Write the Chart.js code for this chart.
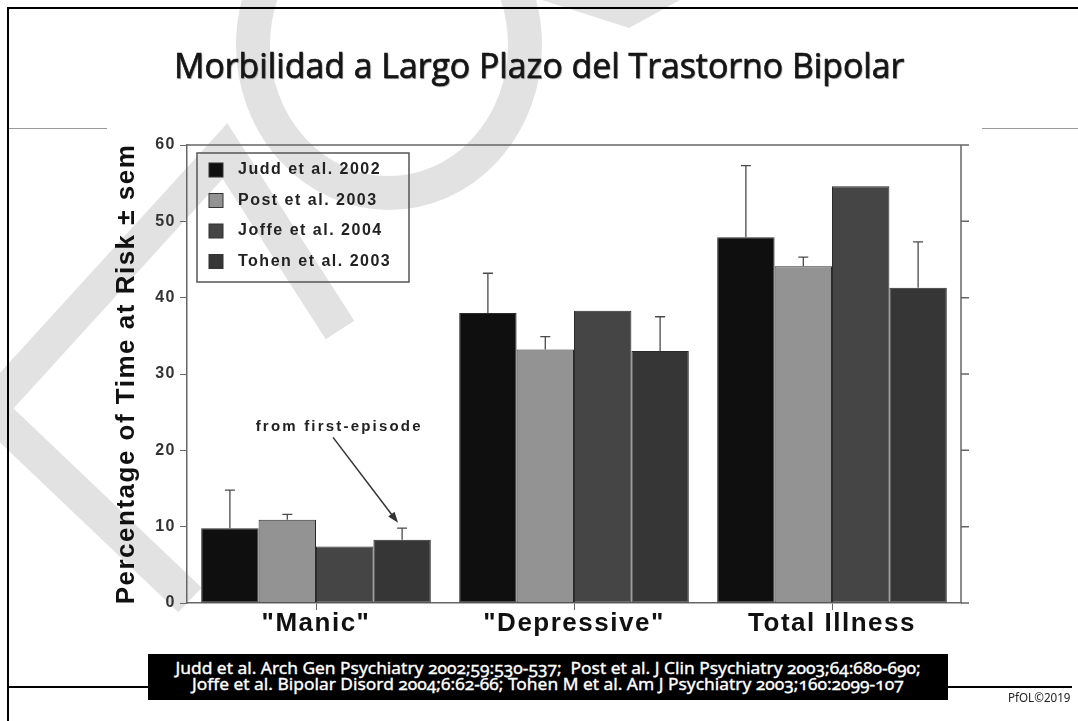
<!DOCTYPE html>
<html>
<head>
<meta charset="utf-8">
<script src="https://cdn.jsdelivr.net/npm/chart.js@4.4.0/dist/chart.umd.min.js"></script>
<style>
  body { margin: 0; width: 1078px; height: 721px; overflow: hidden; background: #fff; position: relative; }
  #wm, #chart { position: absolute; left: 0; top: 0; }
  .line { position: absolute; background: #000; }
  .rule { position: absolute; top: 128px; height: 1px; background: #9a9a9a; }
  #title { position: absolute; left: 0; top: 41px; width: 1078px; text-align: center; white-space: nowrap;
           font-family: "Open Sans", sans-serif; font-size: 35px; color: #151515;
           -webkit-text-stroke: 0.7px #151515; text-shadow: 1px 1px 1px #999; }
  #title span, #cite span, #mark span { display: inline-block; transform-origin: center; }
  #cite { position: absolute; left: 148px; top: 654px; width: 800px; height: 46px; padding-top: 6px; box-sizing: border-box;
          background: #000; color: #fff; text-align: center; white-space: nowrap;
          font-family: "Noto Sans", sans-serif; font-size: 16px; line-height: 16px; font-feature-settings: "onum";
          -webkit-text-stroke: 0.35px #fff; }
  #mark { position: absolute; left: 1000px; top: 690px; width: 78px; text-align: center;
          font-family: "Noto Sans", sans-serif; font-size: 12px; line-height: 16px; color: #222; }
</style>
</head>
<body>
<svg id="wm" width="1078" height="721">
  <g fill="none" stroke="#e2e2e2" stroke-width="34">
    <ellipse cx="389" cy="45" rx="136" ry="148"/>
    <polyline points="-20,420 225,151 340,330"/>
    <line x1="-20" y1="400" x2="190" y2="600"/>
  </g>
  <polygon points="542,0 680,0 629,28" fill="#e2e2e2"/>
</svg>
<canvas id="chart" width="1078" height="721"></canvas>

<div class="line" style="left:7px; top:7px; width:1071px; height:2px;"></div>
<div class="line" style="left:7px; top:7px; width:2px; height:714px;"></div>
<div class="line" style="left:7px; top:686px; width:1065px; height:2px;"></div>
<div class="rule" style="left:9px; width:98px;"></div>
<div class="rule" style="left:982px; width:96px;"></div>

<div id="title"><span>Morbilidad a Largo Plazo del Trastorno Bipolar</span></div>
<div id="cite">
  <span id="cite1">Judd et al. Arch Gen Psychiatry 2002;59:530-537;&nbsp; Post et al. J Clin Psychiatry 2003;64:680-690;</span><br>
  <span id="cite2">Joffe et al. Bipolar Disord 2004;6:62-66; Tohen M et al. Am J Psychiatry 2003;160:2099-107</span>
</div>
<div id="mark"><span id="mark1">PfOL©2019</span></div>

<script>
const categories = ['"Manic"', '"Depressive"', 'Total Illness'];
const studies = ['Judd et al. 2002', 'Post et al. 2003', 'Joffe et al. 2004', 'Tohen et al. 2003'];

const juddValues = [9.8, 38.0, 47.9];
const postValues = [10.9, 33.2, 44.1];
const joffeValues = [7.4, 38.3, 54.6];
const tohenValues = [8.3, 33.0, 41.3];

// standard error of the mean, drawn upward only
const juddSem = [5.0, 5.2, 9.4];
const postSem = [0.7, 1.7, 1.2];
const joffeSem = [null, null, null];
const tohenSem = [1.5, 4.5, 6.0];

const yTicks = [0, 10, 20, 30, 40, 50, 60];
const yTitle = 'Percentage of Time at Risk ± sem';
const noteText = 'from first-episode';

const barColors = ['#0f0f0f', '#939393', '#454545', '#363636'];

function fitWidth(el, width) {
  el.style.transform = `scaleX(${width / el.offsetWidth})`;
}
fitWidth(document.getElementById('cite1'), 745);
fitWidth(document.getElementById('cite2'), 712);
fitWidth(document.getElementById('mark1'), 63);
fitWidth(document.querySelector('#title span'), 730);

Chart.defaults.font.family = '"Liberation Sans", Arial, sans-serif';

const allValues = [juddValues, postValues, joffeValues, tohenValues];
const allSem = [juddSem, postSem, joffeSem, tohenSem];

const decorations = {
  id: 'decorations',
  beforeUpdate(chart) { chart.ctx.letterSpacing = '1.5px'; },
  beforeDraw(chart) { chart.ctx.letterSpacing = '1.5px'; },
  afterDatasetsDraw(chart) {
    const ctx = chart.ctx;
    const y = chart.scales.y;
    ctx.save();
    ctx.strokeStyle = '#4a4a4a';
    ctx.lineWidth = 1.3;
    allSem.forEach((sem, i) => {
      chart.getDatasetMeta(i).data.forEach((bar, j) => {
        if (sem[j] == null) return;
        const top = y.getPixelForValue(allValues[i][j] + sem[j]);
        ctx.beginPath();
        ctx.moveTo(bar.x, bar.y);
        ctx.lineTo(bar.x, top);
        ctx.moveTo(bar.x - 5, top);
        ctx.lineTo(bar.x + 5, top);
        ctx.stroke();
      });
    });
    ctx.restore();
  },
  afterDraw(chart) {
    const { ctx, chartArea: a, scales: { x, y } } = chart;
    ctx.save();

    // top frame and right axis with outward ticks
    ctx.strokeStyle = '#666';
    ctx.lineWidth = 1.5;
    ctx.beginPath();
    ctx.moveTo(a.left, a.top);
    ctx.lineTo(a.right + 8, a.top);
    ctx.moveTo(a.right, a.top);
    ctx.lineTo(a.right, a.bottom);
    yTicks.forEach(v => {
      const py = y.getPixelForValue(v);
      ctx.moveTo(a.right, py);
      ctx.lineTo(a.right + 8, py);
    });
    ctx.stroke();

    // legend box
    const lx = a.left + 10, ly = a.top + 8;
    ctx.strokeStyle = '#555';
    ctx.lineWidth = 1.5;
    ctx.strokeRect(lx, ly, 212, 129);
    ctx.font = 'bold 16px "Liberation Sans", Arial, sans-serif';
    ctx.textBaseline = 'middle';
    ctx.textAlign = 'left';
    chart.data.datasets.forEach((ds, i) => {
      const cy = ly + 17 + i * 30.5;
      ctx.fillStyle = ds.backgroundColor;
      ctx.fillRect(lx + 12, cy - 7, 14, 14);
      ctx.strokeStyle = '#333';
      ctx.lineWidth = 1;
      ctx.strokeRect(lx + 12, cy - 7, 14, 14);
      ctx.fillStyle = '#222';
      ctx.fillText(ds.label, lx + 41, cy);
    });

    // annotation with arrow to the Tohen "Manic" bar
    const step = x.getPixelForValue(1) - x.getPixelForValue(0);
    const px = f => x.getPixelForValue(0) + f * step;
    ctx.font = 'bold 15px "Liberation Sans", Arial, sans-serif';
    ctx.letterSpacing = '2.2px';
    ctx.textAlign = 'center';
    ctx.fillStyle = '#222';
    ctx.fillText(noteText, px(0.09), y.getPixelForValue(23.1));

    const x0 = px(0.066), y0 = y.getPixelForValue(21.7);
    const x1 = px(0.318), y1 = y.getPixelForValue(10.5);
    const ang = Math.atan2(y1 - y0, x1 - x0);
    ctx.strokeStyle = '#333';
    ctx.lineWidth = 1.5;
    ctx.beginPath();
    ctx.moveTo(x0, y0);
    ctx.lineTo(x1 - 8 * Math.cos(ang), y1 - 8 * Math.sin(ang));
    ctx.stroke();
    ctx.fillStyle = '#333';
    ctx.beginPath();
    ctx.moveTo(x1, y1);
    ctx.lineTo(x1 - 11 * Math.cos(ang) + 4 * Math.sin(ang), y1 - 11 * Math.sin(ang) - 4 * Math.cos(ang));
    ctx.lineTo(x1 - 11 * Math.cos(ang) - 4 * Math.sin(ang), y1 - 11 * Math.sin(ang) + 4 * Math.cos(ang));
    ctx.closePath();
    ctx.fill();

    ctx.restore();
  }
};

new Chart(document.getElementById('chart'), {
  type: 'bar',
  data: {
    labels: categories,
    datasets: studies.map((label, i) => ({
      label: label,
      data: allValues[i],
      backgroundColor: barColors[i],
      borderColor: '#2b2b2b',
      borderWidth: 1,
      borderSkipped: false,
      categoryPercentage: 0.89,
      barPercentage: 1.0,
    })),
  },
  options: {
    responsive: false,
    animation: false,
    devicePixelRatio: 1,
    layout: { padding: { left: 108, top: 145, right: 117, bottom: 78 } },
    plugins: {
      legend: { display: false },
      tooltip: { enabled: false },
    },
    scales: {
      x: {
        grid: { drawOnChartArea: false, drawTicks: true, tickLength: 7, offset: false, color: '#666' },
        border: { display: true, color: '#666', width: 1.5 },
        ticks: { font: { size: 26, weight: 'bold' }, color: '#111', padding: -2 },
        afterFit: s => { s.height = 40; },
      },
      y: {
        min: 0,
        max: 60,
        afterBuildTicks: s => { s.ticks = yTicks.map(v => ({ value: v })); },
        grid: { drawOnChartArea: false, drawTicks: true, tickLength: 7, color: '#666' },
        border: { display: true, color: '#666', width: 1.5 },
        ticks: { font: { size: 16, weight: 'bold' }, color: '#333', padding: 4 },
        title: { display: true, text: yTitle, font: { size: 26, weight: 'bold' }, color: '#111', padding: { top: 3 } },
        afterFit: s => { s.width = 79; },
      },
    },
  },
  plugins: [decorations],
});
</script>
</body>
</html>
